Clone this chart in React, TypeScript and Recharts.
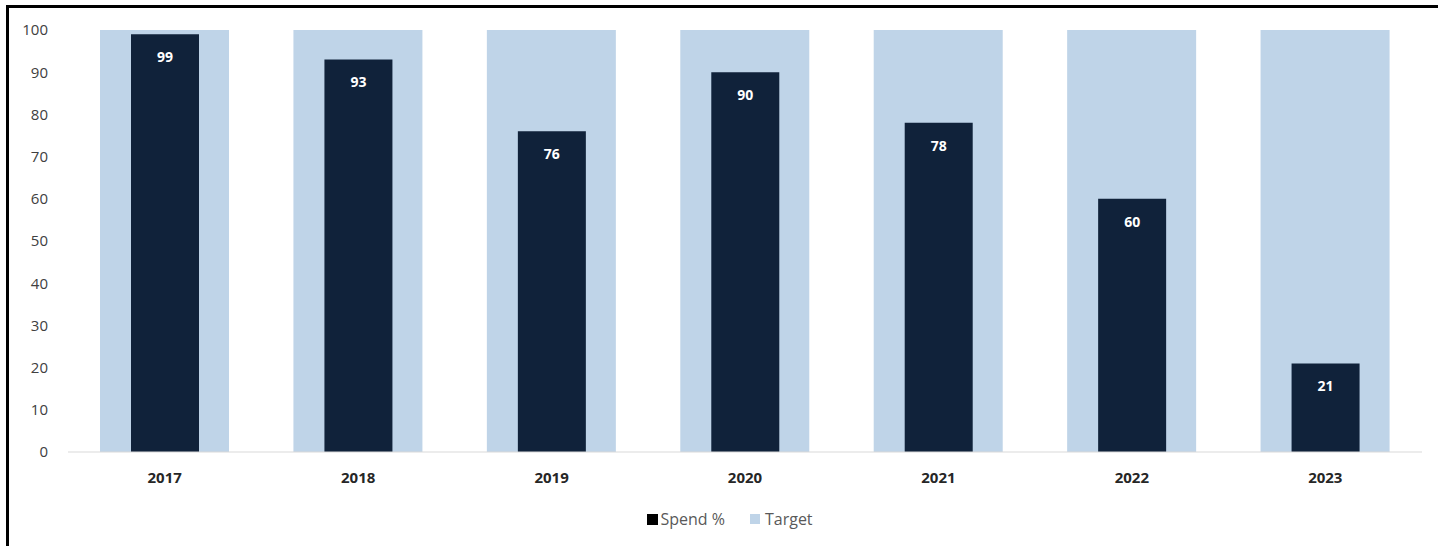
import React from 'react';
import { BarChart, Bar, XAxis, YAxis, Legend, LabelList } from 'recharts';

const years = ['2017', '2018', '2019', '2020', '2021', '2022', '2023'];
const spend = [99, 93, 76, 90, 78, 60, 21];
const target = [100, 100, 100, 100, 100, 100, 100];
const yTicks = [0, 10, 20, 30, 40, 50, 60, 70, 80, 90, 100];

const NAVY = '#10223a';
const LIGHT = '#bfd4e8';
const FONT = '"Open Sans", "Liberation Sans", sans-serif';

const data = years.map((year, i) => ({ year, spend: spend[i], target: target[i] }));

const LegendContent = () => (
  <div
    style={{
      display: 'flex',
      justifyContent: 'center',
      alignItems: 'center',
      height: 20,
      fontFamily: FONT,
      fontSize: 16,
      color: '#595959',
      paddingLeft: 38,
    }}
  >
    <span style={{ display: 'inline-block', width: 11, height: 11, background: '#000', marginRight: 2 }} />
    <span style={{ marginRight: 25 }}>Spend %</span>
    <span style={{ display: 'inline-block', width: 10, height: 10, background: LIGHT, marginRight: 5 }} />
    <span>Target</span>
  </div>
);

export default function App() {
  return (
    <div style={{ position: 'fixed', inset: 0, background: '#fff' }}>
      <div
        style={{
          position: 'absolute',
          left: 6,
          top: 5,
          right: 0,
          bottom: 0,
          borderTop: '3px solid #000',
          borderLeft: '3px solid #000',
        }}
      />
      <div style={{ position: 'absolute', left: 0, top: 0 }}>
        <BarChart
          width={1438}
          height={546}
          data={data}
          margin={{ top: 30, right: 16, left: 0, bottom: 17 }}
          style={{ fontFamily: FONT }}
        >
          <XAxis xAxisId="bg" dataKey="year" hide />
          <XAxis
            dataKey="year"
            height={57}
            axisLine={{ stroke: '#d9d9d9' }}
            tickLine={false}
            tickMargin={14}
            tick={{ fill: '#262626', fontSize: 15, fontWeight: 700 }}
          />
          <YAxis
            width={68}
            domain={[0, 100]}
            ticks={yTicks}
            axisLine={false}
            tickLine={false}
            tickMargin={14}
            tick={{ fill: '#404040', fontSize: 15 }}
          />
          <Legend verticalAlign="bottom" content={<LegendContent />} />
          <Bar xAxisId="bg" dataKey="target" name="Target" fill={LIGHT} barSize={129} isAnimationActive={false} />
          <Bar dataKey="spend" name="Spend %" fill={NAVY} barSize={68} isAnimationActive={false}>
            <LabelList dataKey="spend" position="insideTop" offset={18} fill="#fff" fontSize={14} fontWeight={700} />
          </Bar>
        </BarChart>
      </div>
    </div>
  );
}
